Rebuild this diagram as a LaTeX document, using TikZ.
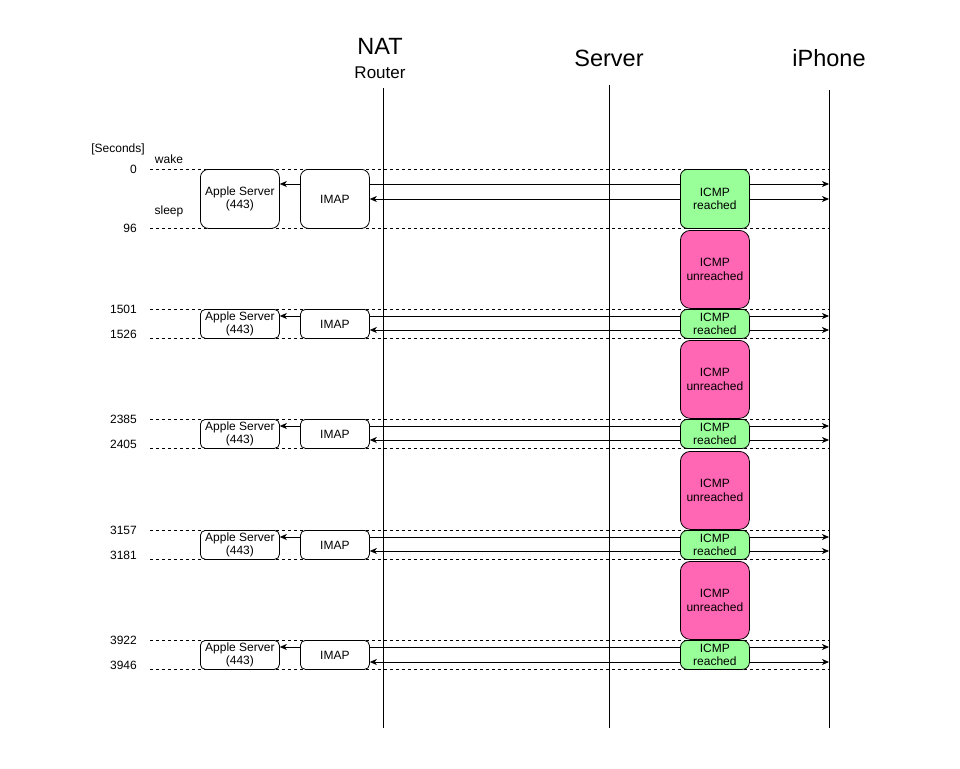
\documentclass[tikz,border=0pt]{standalone}
\usepackage{fontspec}
\setmainfont{Liberation Sans}
\usetikzlibrary{arrows.meta,calc}
\definecolor{okgreen}{RGB}{153,255,153}
\definecolor{failpink}{RGB}{255,102,179}
\begin{document}
\begin{tikzpicture}[x=1pt,y=-1pt,
  small/.style={font=\fontsize{12}{13.5}\selectfont, inner sep=0pt},
  hdr/.style={font=\fontsize{23.5}{27}\selectfont, inner sep=0pt},
  rbox/.style={draw, line width=0.8pt, fill=white, align=center, inner sep=0pt, anchor=north west,
               font=\fontsize{12}{13.5}\selectfont},
  dashline/.style={line width=0.8pt, dash pattern=on 3pt off 3pt},
  life/.style={line width=1pt},
  arr/.style={line width=0.8pt, -{Stealth[length=7pt,width=6pt,inset=2pt]}}
]
\useasboundingbox (0,0) rectangle (960,768);

% headings
\node[hdr] (hnat) at (380,46.5) {NAT};
\node[small, font=\fontsize{17}{20}\selectfont] (hrouter) at (380,73) {Router};
\node[hdr] (hserver) at (609,58) {Server};
\node[hdr] (hiphone) at (829,58) {iPhone};

% lifelines
\coordinate (natT) at (383,88);  \coordinate (natB) at (383,728);
\coordinate (srvT) at (609,85);  \coordinate (srvB) at (609,728);
\coordinate (iphT) at (829,90);  \coordinate (iphB) at (829,728);
\draw[life] (natT) -- (natB);
\draw[life] (srvT) -- (srvB);
\draw[life] (iphT) -- (iphB);

% axis captions
\node[small] (secs) at (118,149) {[Seconds]};
\node[small] (wake) at (169,159) {wake};
\node[small] (sleep) at (169,211) {sleep};

% blocks
\foreach \i/\t/\b/\u/\l/\ta/\tb/\ly in {
  1/169/228/184/199/0/96/228,
  2/309/338/316/330/1501/1526/334,
  3/419/448/426/440/2385/2405/444,
  4/530/559/537/551/3157/3181/555,
  5/640/669/647/662/3922/3946/665}{
  \coordinate (dTL\i) at (150,\t); \coordinate (dTR\i) at (829,\t);
  \coordinate (dBL\i) at (150,\b); \coordinate (dBR\i) at (829,\b);
  \draw[dashline] (dTL\i) -- (dTR\i);
  \draw[dashline] (dBL\i) -- (dBR\i);
  \node[small, anchor=east] (lt\i) at (137,\t) {\ta};
  \node[small, anchor=east] (lb\i) at (137,\ly) {\tb};
  \coordinate (up\i) at (829,\u);
  \coordinate (lo\i) at (829,\l);
  \ifnum\i=1
    \node[rbox, rounded corners=8pt, minimum width=79pt, minimum height={(\b-\t)*1pt}] (apple\i) at (200,\t) {Apple Server\\(443)};
    \node[rbox, rounded corners=8pt, minimum width=69pt, minimum height={(\b-\t)*1pt}] (imap\i) at (300,\t) {IMAP};
  \else
    \node[rbox, rounded corners=5pt, minimum width=79pt, minimum height={(\b-\t)*1pt}] (apple\i) at (200,\t) {Apple Server\\(443)};
    \node[rbox, rounded corners=5pt, minimum width=69pt, minimum height={(\b-\t)*1pt}] (imap\i) at (300,\t) {IMAP};
  \fi
  \draw[arr] (imap\i.west |- up\i) -- (apple\i.east |- up\i);
  \draw[arr] (imap\i.east |- up\i) -- (up\i);
  \draw[arr] (680,\l) -- (imap\i.east |- lo\i);
  \draw[arr] (749,\l) -- (lo\i);
  \node[rbox, fill=okgreen, rounded corners=7pt, minimum width=69pt, minimum height={(\b-\t)*1pt}] (icmp\i) at (680,\t) {ICMP\\reached};
}

% unreached boxes
\foreach \j/\t/\b in {a/230/308, b/340/418, c/451/529, d/561/639}{
  \node[rbox, fill=failpink, rounded corners=10pt, minimum width=69pt, minimum height={(\b-\t)*1pt}] (fail\j) at (680,\t) {ICMP\\unreached};
}
\end{tikzpicture}
\end{document}
